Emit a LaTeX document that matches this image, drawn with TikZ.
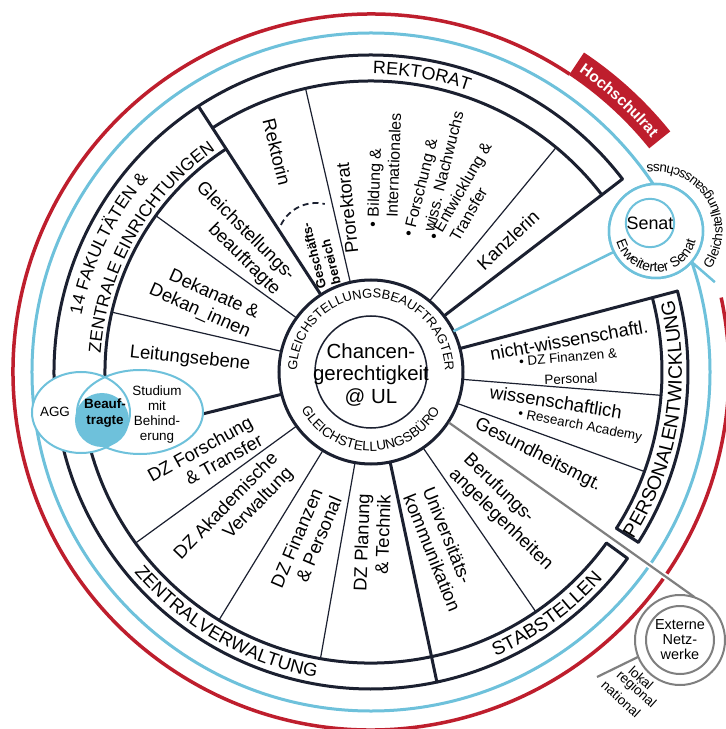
\documentclass[tikz,border=0pt]{standalone}
\usepackage{fontspec}
\setmainfont{Liberation Sans}
\usetikzlibrary{decorations.text,calc}
\definecolor{uldark}{HTML}{1B2030}
\definecolor{ulblue}{HTML}{6EC1DB}
\definecolor{ulred}{HTML}{BE1E2D}
\definecolor{ulgray}{HTML}{7F7F7F}
\newcommand{\fsz}[2]{\fontsize{#1}{#2}\selectfont}
\begin{document}
\begin{tikzpicture}[x=1bp,y=1bp,
  thickl/.style={uldark,line width=3bp,line cap=round,line join=round},
  thinl/.style={uldark,line width=1.2bp},
  sect/.style={font=\fsz{18.5}{21},inner sep=0pt,align=center},
  subit/.style={font=\fsz{16}{19},inner sep=0pt,align=left},
  small/.style={font=\fsz{13.5}{15},inner sep=0pt},
  arctext/.style={decorate,decoration={text along path,text align=center,text={#1}}}
]
\useasboundingbox (-371,-357) rectangle (355,372);
\fill[white] (-371,-357) rectangle (355,372);

% outer blue and red rings
\draw[ulblue,line width=3bp] (0,0) circle[radius=339bp];
\draw[ulred,line width=3.5bp] (56.3:358) arc[start angle=56.3,end angle=372,radius=358bp];
\fill[ulred] (38.8:357) arc[start angle=38.8,end angle=56.3,radius=357bp] -- (56.3:384) arc[start angle=56.3,end angle=38.8,radius=384bp] -- cycle;
\path[arctext={|\color{white}\bfseries\fsz{15.5}{17}|Hochschulrat}] (58:365) arc[start angle=58,end angle=37.1,radius=365bp];

% central circles
\draw[uldark,line width=1.5bp] (0,0) circle[radius=56bp];
\draw[thickl] (0,0) circle[radius=92bp];

% bands
\draw[thickl] (37.5:317) arc[start angle=37.5,end angle=324,radius=317bp];
\draw[thickl] (37.5:291) arc[start angle=37.5,end angle=123,radius=291bp];
\draw[thickl] (123:266) arc[start angle=123,end angle=194,radius=266bp];
\draw[thickl] (194:291) arc[start angle=194,end angle=324,radius=291bp];
\draw[thickl] (-32.5:291) arc[start angle=-32.5,end angle=14.8,radius=291bp];
\draw[thickl] (-32.5:317) arc[start angle=-32.5,end angle=14.8,radius=317bp];

% radial lines
\foreach \a in {123,37.5,14.8,282} \draw[thickl] (\a:92) -- (\a:317);
\draw[thickl] (194:92) -- (194:291);
\draw[thickl] (-32.5:291) -- (-32.5:317);
\draw[thickl] (-36:291) -- (-36:317);
\foreach \a in {103,50.5} \draw[thinl] (\a:92) -- (\a:291);
\foreach \a in {144,167} \draw[thinl] (\a:92) -- (\a:266);
\foreach \a in {216,238.5,260,304.5,-20,-4.6} \draw[thinl] (\a:92) -- (\a:291);

% Geschaeftsbereich dashed arc
\coordinate (gbc) at (-55,130);
\draw[uldark,line width=1.8bp,dash pattern=on 6bp off 4bp] ($(gbc)+(154:39)$) arc[start angle=154,end angle=77,radius=39bp];

% band texts
\path[arctext={|\fsz{18}{20}|REKTORAT}] (123:298) arc[start angle=123,end angle=37.5,radius=298bp];
\path[arctext={|\fsz{17.5}{20}|14 FAKULT{Ä}TEN {\&}}] (194:295) arc[start angle=194,end angle=114,radius=295bp];
\path[arctext={|\fsz{17.5}{20}|ZENTRALE EINRICHTUNGEN}] (190.5:271) arc[start angle=190.5,end angle=110.5,radius=271bp];
\path[arctext={|\fsz{18.5}{20}|ZENTRALVERWALTUNG}] (195:310) arc[start angle=195,end angle=285,radius=310bp];
\path[arctext={|\fsz{19}{20}|STABSTELLEN}] (-89:310.5) arc[start angle=-89,end angle=-19,radius=310.5bp];
\path[arctext={|\fsz{19.5}{20}|PERSONALENTWICKLUNG}] (-50:311) arc[start angle=-50,end angle=31,radius=311bp];
\path[arctext={|\fsz{13}{15}|GLEICHSTELLUNGSBEAUFTRAGTER}] (200:74) arc[start angle=200,end angle=-20,radius=74bp];
\path[arctext={|\fsz{13.5}{15}|GLEICHSTELLUNGSB{Ü}RO}] (194.5:79) arc[start angle=194.5,end angle=344.5,radius=79bp];

% connectors
\coordinate (sb) at (26.3:92);
\coordinate (gb) at (-33:93);
\node[circle,draw=ulblue,line width=2.5bp,fill=white,minimum size=94bp,inner sep=0pt] (senat) at (285,141) {};
\draw[ulblue,line width=2.5bp] (sb) -- (senat);
\node[circle,draw=ulblue,line width=2.5bp,fill=white,minimum size=94bp,inner sep=0pt] at (senat) {};
\node[circle,draw=ulblue,line width=2bp,minimum size=48bp,inner sep=0pt,font=\fsz{18}{20}] (senatin) at (279,149) {Senat};
\draw[ulblue,line width=2.5bp] (senat.-41) -- ($(senat)+(-41:78)$);
\path[arctext={|\fsz{14}{16}|Erweiterter Senat}] ($(senat)+(185:41)$) arc[start angle=185,end angle=356,radius=41bp];
\path[arctext={|\fsz{13.5}{16}|Gleichstellungsausschuss}] ($(senat)+(-50:66.5)$) arc[start angle=-50,end angle=113,radius=66.5bp];

\node[circle,minimum size=90bp,inner sep=0pt] (ext) at (309,-268) {};
\draw[white,line width=6bp,shorten <=200bp] (gb) -- (ext.71);
\draw[ulgray,line width=2.2bp] (gb) -- (ext.71);
\node[circle,draw=ulgray,line width=2bp,fill=white,minimum size=90bp,inner sep=0pt] at (ext) {};
\draw[ulgray,line width=2bp] (ext.center) circle[radius=34bp];
\node[font=\fsz{14.5}{15},align=center,inner sep=0pt] (exttext) at (ext.center) {Externe\\Netz-\\werke};
\coordinate (lk) at (226,-305);
\draw[ulgray,line width=2.2bp] (ext.202) -- (lk);
\node[small,rotate=-42] (lokal) at (270,-306) {lokal};
\node[small,rotate=-42] (regional) at (265,-318) {regional};
\node[small,rotate=-42] (national) at (250,-327) {national};

% Venn diagram
\fill[white] (-290,-40.5) ellipse[x radius=49bp,y radius=40.5bp];
\fill[white] (-231,-40) ellipse[x radius=63bp,y radius=42bp];
\draw[ulblue,line width=2bp] (-290,-40.5) ellipse[x radius=49bp,y radius=40.5bp];
\draw[ulblue,line width=2bp] (-231,-40) ellipse[x radius=63bp,y radius=42bp];
\fill[ulblue] (-269,-48) circle[radius=27bp];
\node[font=\fsz{13.5}{15}] (agg) at (-316,-40) {AGG};
\node[font=\bfseries\fsz{13.5}{16},align=center,inner sep=0pt] (beauf) at (-266,-41) {Beauf-\\tragte};
\node[font=\fsz{13.5}{15},align=center,inner sep=0pt] (stud) at (-214,-42.5) {Studium\\mit\\Behind-\\erung};

% center
\node[font=\fsz{20.5}{23},align=center,inner sep=0pt] (chance) at (0,-3) {Chancen-\\gerechtigkeit\\@ UL};

% sector texts
\node[sect,rotate=-76] (rektorin) at (-94,220) {Rektorin};
\node[sect,rotate=96] (prorektorat) at (-24,164) {Prorektorat};
\node[subit,rotate=88] (bildung) at (13,202) {\textbullet\ Bildung \&\\\hphantom{\textbullet\ }Internationales};
\node[subit,rotate=76] (forschung) at (62,198) {\textbullet\ Forschung \&\\\hphantom{\textbullet\ }wiss. Nachwuchs};
\node[subit,rotate=60] (entwicklung) at (97,176) {\textbullet\ Entwicklung \&\\\hphantom{\textbullet\ }Transfer};
\node[sect,rotate=43] (kanzlerin) at (137,132) {Kanzlerin};
\node[font=\bfseries\fsz{13}{15},align=left,rotate=104,inner sep=0pt] (gesch) at (-50,118) {Geschäfts-\\bereich};
\node[sect,rotate=-45,align=right] (gsb) at (-133,133) {Gleichstellungs-\\beauftragte};
\node[sect,rotate=-24,align=right] (dek) at (-167,70) {Dekanate \&\\Dekan\_innen};
\node[sect,rotate=-6] (leit) at (-181,13) {Leitungsebene};
\node[sect,rotate=29,align=right] (dzf) at (-166,-86) {DZ Forschung\\\& Transfer};
\node[sect,rotate=46,align=right] (dza) at (-137,-142) {DZ Akademische\\Verwaltung};
\node[sect,rotate=67,align=right] (dzfp) at (-65,-170) {DZ Finanzen\\\& Personal};
\node[sect,rotate=88,align=right] (dzp) at (1,-171) {DZ Planung\\\& Technik};
\node[sect,rotate=-68,align=left] (uk) at (71,-177) {Universitäts-\\kommunikation};
\node[sect,rotate=-44,align=left] (ber) at (137,-140) {Berufungs-\\angelegenheiten};
\node[sect,rotate=-27] (ges) at (167,-83) {Gesundheitsmgt.};
\node[sect,rotate=-9] (wiss) at (185,-30) {wissenschaftlich};
\node[small,rotate=-11] (ra) at (209,-54) {\textbullet\ Research Academy};
\node[sect,rotate=10] (nwiss) at (198,32) {nicht-wissenschaftl.};
\node[small,rotate=5] (dzfin) at (197,15) {\textbullet\ DZ Finanzen \&};
\node[small,rotate=2] (pers) at (200,-7) {Personal};
\end{tikzpicture}
\end{document}
